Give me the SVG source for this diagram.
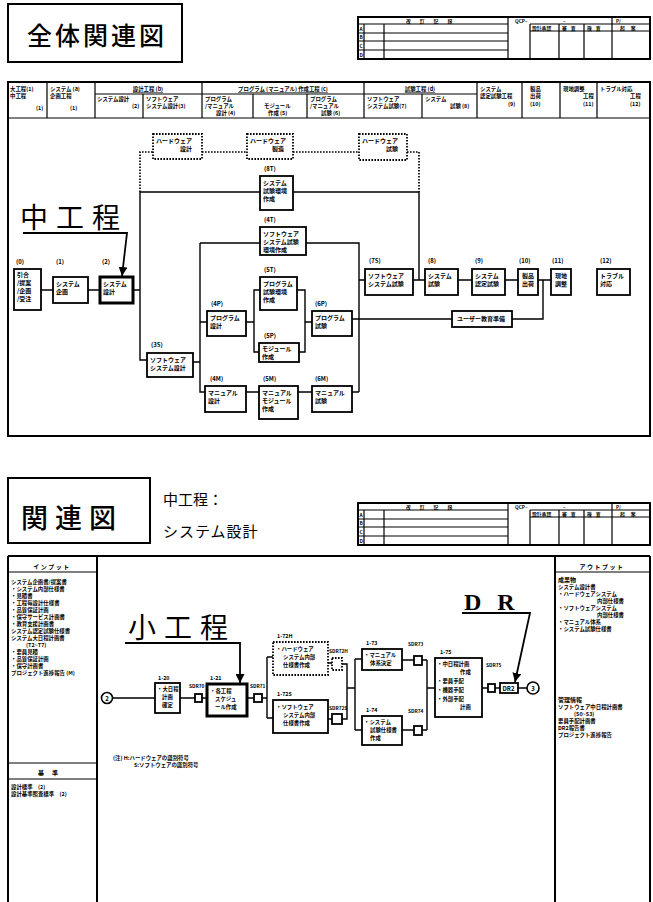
<svg xmlns="http://www.w3.org/2000/svg" width="653" height="902" viewBox="0 0 653 902">
<style>
.bx{fill:#fff;stroke:#000;stroke-width:1.8}
.bxk{fill:#fff;stroke:#000;stroke-width:3}
.dbx{fill:#fff;stroke:#000;stroke-width:1.8;stroke-dasharray:1.6 1.4}
.ln{fill:none;stroke:#000;stroke-width:1.4}
.dl{fill:none;stroke:#000;stroke-width:1.7;stroke-dasharray:1.6 1.4}
.fr{fill:none;stroke:#000;stroke-width:2}
.tl{fill:none;stroke:#000;stroke-width:1.2}
.co{fill:none;stroke:#000;stroke-width:1.8}
.t{font-family:"Noto Sans CJK JP","Noto Sans CJK SC",sans-serif;font-size:6px;font-weight:700;fill:#000}
.s{font-size:5.4px}
.xs{font-size:4.8px}
.big{font-family:"Noto Sans CJK JP","Noto Sans CJK SC",sans-serif;font-weight:400;fill:#000}
.ttl{font-family:"Noto Sans CJK JP","Noto Sans CJK SC",sans-serif;font-weight:500;fill:#000}
</style>
<defs>
<marker id="ah" viewBox="0 0 10 10" refX="10" refY="5" markerWidth="9" markerHeight="9" markerUnits="userSpaceOnUse" orient="auto"><path d="M0,0 L10,5 L0,10 z" fill="#000"/></marker>
<g id="rev">
<rect x="0" y="0" width="292" height="42" class="fr"/>
<path class="tl" d="M0,7 H150 M6,7 V42 M26,7 V42 M0,16 H150 M0,24 H150 M0,33 H150 M150,0 V42 M172,7 V42 M172,7 H292 M172,14 H292 M201,7 V42 M226,7 V42 M254,0 V42"/>
<text class="t xs" x="48" y="5.5" letter-spacing="9">改訂記録</text>
<text class="t xs" x="157" y="5.5">QCP–</text>
<text class="t xs" x="205" y="5.5">–</text>
<text class="t xs" x="258" y="5.5">P/</text>
<text class="t xs" x="174" y="12.5">設計承認</text>
<text class="t xs" x="204" y="12.5" letter-spacing="4">審査</text>
<text class="t xs" x="229" y="12.5" letter-spacing="4">検査</text>
<text class="t xs" x="262" y="12.5" letter-spacing="6">起案</text>
<text class="t xs" x="1.5" y="13.5">A</text>
<text class="t xs" x="1.5" y="22">B</text>
<text class="t xs" x="1.5" y="31">C</text>
<text class="t xs" x="1.5" y="40">D</text>
</g>
</defs>
<rect x="0" y="0" width="653" height="902" fill="#fff"/>

<!-- ===== TOP HALF ===== -->
<g id="title-top">
<rect x="8" y="4" width="174" height="58" class="fr" stroke-width="2.2"/>
<text class="ttl" x="27" y="45" font-size="25" letter-spacing="3">全体関連図</text>
</g>
<g id="rev-top"><use href="#rev" x="358" y="17"/></g>

<g id="col-headers">
<rect x="8" y="82" width="642" height="354" class="fr"/>
<path class="tl" d="M8,118 H650 M95,94 H477 M47,82 V118 M95,82 V118 M202,82 V118 M364,82 V118 M477,82 V118 M522,82 V118 M560,82 V118 M597,82 V118 M143,94 V118 M253,94 V118 M307,94 V118 M422,94 V118" stroke-width="1.4"/>
<text class="t s" x="10" y="91">大工程(1)</text>
<text class="t s" x="10" y="98">中工程</text>
<text class="t s" x="36" y="110">(1)</text>
<text class="t s" x="50" y="91">システム (a)</text>
<text class="t s" x="50" y="98">企画工程</text>
<text class="t s" x="70" y="110">(1)</text>
<text class="t s" x="148" y="91" text-anchor="middle" text-decoration="underline">設計工程 (b)</text>
<text class="t s" x="97" y="101">システム設計</text>
<text class="t s" x="132" y="108">(2)</text>
<text class="t s" x="146" y="101">ソフトウェア</text>
<text class="t s" x="146" y="108">システム設計(3)</text>
<text class="t s" x="283" y="91" text-anchor="middle" text-decoration="underline">プログラム (マニュアル) 作成工程 (c)</text>
<text class="t s" x="205" y="101">プログラム</text>
<text class="t s" x="205" y="108">/マニュアル</text>
<text class="t s" x="216" y="115">設計 (4)</text>
<text class="t s" x="264" y="108">モジュール</text>
<text class="t s" x="268" y="115">作成 (5)</text>
<text class="t s" x="310" y="101">プログラム</text>
<text class="t s" x="310" y="108">/マニュアル</text>
<text class="t s" x="321" y="115">試験 (6)</text>
<text class="t s" x="420" y="91" text-anchor="middle" text-decoration="underline">試験工程 (d)</text>
<text class="t s" x="367" y="101">ソフトウェア</text>
<text class="t s" x="367" y="108">システム試験(7)</text>
<text class="t s" x="425" y="101">システム</text>
<text class="t s" x="450" y="108">試験 (8)</text>
<text class="t s" x="480" y="91">システム</text>
<text class="t s" x="480" y="98">認定試験工程</text>
<text class="t s" x="508" y="106">(9)</text>
<text class="t s" x="530" y="91">製品</text>
<text class="t s" x="530" y="98">出荷</text>
<text class="t s" x="530" y="106">(10)</text>
<text class="t s" x="563" y="91">現地調整</text>
<text class="t s" x="583" y="98">工程</text>
<text class="t s" x="583" y="106">(11)</text>
<text class="t s" x="600" y="91">トラブル対応</text>
<text class="t s" x="630" y="98">工程</text>
<text class="t s" x="630" y="106">(12)</text>
</g>

<g id="connectors-top">
<path class="ln" d="M41,290 H53 M88,290 H100 M133,290 H140 M140,192 V360 H147 M140,192 H260 M293,192 H419 V280"/>
<path class="ln" d="M193,362 H200 M200,243 V392 H205 M200,243 H260 M200,322 H207"/>
<path class="ln" d="M246,322 H254 M260,290 H254 V352 H259 M297,290 H305 V352 H299 M305,322 H312"/>
<path class="ln" d="M246,392 H259 M298,392 H312 M352,392 H359 M306,243 H359 V392 M359,280 H365 M352,319 H452 M512,319 H543 V280"/>
<path class="ln" d="M413,280 H425 M458,280 H472 M505,280 H518 M538,280 H551"/>
<path class="dl" d="M140,192 V152 H153 M202,152 H247 M293,152 H359 M407,152 H419 V192"/>
</g>

<g id="callout-chukotei">
<text class="big" x="20" y="228" font-size="28" letter-spacing="8">中工程</text>
<path class="co" d="M23,233 H127 L122,276" marker-end="url(#ah)"/>
</g>

<g id="n0"><text class="t" x="16" y="264">(0)</text><rect class="bx" x="14" y="269" width="27" height="41"/><text class="t" x="17" y="277"><tspan x="17">引合</tspan><tspan x="17" dy="8">/提案</tspan><tspan x="17" dy="8">/企画</tspan><tspan x="17" dy="8">/受注</tspan></text></g>
<g id="n1"><text class="t" x="56" y="264">(1)</text><rect class="bx" x="53" y="277" width="35" height="26"/><text class="t" x="56" y="286"><tspan x="56">システム</tspan><tspan x="56" dy="8">企画</tspan></text></g>
<g id="n2"><text class="t" x="102" y="264">(2)</text><rect class="bxk" x="100" y="277" width="33" height="26"/><text class="t" x="103" y="286"><tspan x="103">システム</tspan><tspan x="103" dy="8">設計</tspan></text></g>
<g id="n3S"><text class="t" x="151" y="347">(3S)</text><rect class="bx" x="147" y="353" width="46" height="24"/><text class="t" x="150" y="362"><tspan x="150">ソフトウェア</tspan><tspan x="150" dy="8">システム設計</tspan></text></g>
<g id="hw-design"><rect class="dbx" x="153" y="134" width="49" height="25"/><text class="t" x="156" y="143"><tspan x="156">ハードウェア</tspan><tspan x="180" dy="8">設計</tspan></text></g>
<g id="hw-make"><rect class="dbx" x="247" y="134" width="46" height="25"/><text class="t" x="250" y="143"><tspan x="250">ハードウェア</tspan><tspan x="272" dy="8">製造</tspan></text></g>
<g id="hw-test"><rect class="dbx" x="359" y="134" width="48" height="26"/><text class="t" x="362" y="143"><tspan x="362">ハードウェア</tspan><tspan x="386" dy="8">試験</tspan></text></g>
<g id="n8T"><text class="t" x="264" y="171">(8T)</text><rect class="bx" x="260" y="176" width="33" height="34"/><text class="t" x="263" y="185"><tspan x="263">システム</tspan><tspan x="263" dy="8">試験環境</tspan><tspan x="263" dy="8">作成</tspan></text></g>
<g id="n4T"><text class="t" x="264" y="222">(4T)</text><rect class="bx" x="260" y="227" width="46" height="28"/><text class="t" x="263" y="236"><tspan x="263">ソフトウェア</tspan><tspan x="263" dy="8">システム試験</tspan><tspan x="263" dy="8">環境作成</tspan></text></g>
<g id="n5T"><text class="t" x="264" y="272">(5T)</text><rect class="bx" x="260" y="277" width="37" height="33"/><text class="t" x="263" y="286"><tspan x="263">プログラム</tspan><tspan x="263" dy="8">試験環境</tspan><tspan x="263" dy="8">作成</tspan></text></g>
<g id="n4P"><text class="t" x="211" y="306">(4P)</text><rect class="bx" x="207" y="311" width="39" height="25"/><text class="t" x="210" y="320"><tspan x="210">プログラム</tspan><tspan x="210" dy="8">設計</tspan></text></g>
<g id="n5P"><text class="t" x="264" y="338">(5P)</text><rect class="bx" x="259" y="343" width="40" height="19"/><text class="t" x="262" y="351"><tspan x="262">モジュール</tspan><tspan x="262" dy="8">作成</tspan></text></g>
<g id="n6P"><text class="t" x="315" y="306">(6P)</text><rect class="bx" x="312" y="311" width="40" height="25"/><text class="t" x="315" y="320"><tspan x="315">プログラム</tspan><tspan x="315" dy="8">試験</tspan></text></g>
<g id="n4M"><text class="t" x="210" y="381">(4M)</text><rect class="bx" x="205" y="386" width="41" height="26"/><text class="t" x="208" y="395"><tspan x="208">マニュアル</tspan><tspan x="208" dy="8">設計</tspan></text></g>
<g id="n5M"><text class="t" x="263" y="381">(5M)</text><rect class="bx" x="259" y="386" width="39" height="33"/><text class="t" x="262" y="395"><tspan x="262">マニュアル</tspan><tspan x="262" dy="8">モジュール</tspan><tspan x="262" dy="8">作成</tspan></text></g>
<g id="n6M"><text class="t" x="315" y="381">(6M)</text><rect class="bx" x="312" y="386" width="40" height="26"/><text class="t" x="315" y="395"><tspan x="315">マニュアル</tspan><tspan x="315" dy="8">試験</tspan></text></g>
<g id="n7S"><text class="t" x="369" y="263">(7S)</text><rect class="bx" x="365" y="269" width="48" height="26"/><text class="t" x="368" y="278"><tspan x="368">ソフトウェア</tspan><tspan x="368" dy="8">システム試験</tspan></text></g>
<g id="n8"><text class="t" x="428" y="263">(8)</text><rect class="bx" x="425" y="269" width="33" height="26"/><text class="t" x="428" y="278"><tspan x="428">システム</tspan><tspan x="428" dy="8">試験</tspan></text></g>
<g id="n9"><text class="t" x="475" y="263">(9)</text><rect class="bx" x="472" y="269" width="33" height="26"/><text class="t" x="475" y="278"><tspan x="475">システム</tspan><tspan x="475" dy="8">認定試験</tspan></text></g>
<g id="n10"><text class="t" x="519" y="263">(10)</text><rect class="bx" x="518" y="269" width="20" height="26"/><text class="t" x="522" y="278"><tspan x="522">製品</tspan><tspan x="522" dy="8">出荷</tspan></text></g>
<g id="n11"><text class="t" x="552" y="263">(11)</text><rect class="bx" x="551" y="269" width="20" height="26"/><text class="t" x="555" y="278"><tspan x="555">現地</tspan><tspan x="555" dy="8">調整</tspan></text></g>
<g id="n12"><text class="t" x="600" y="263">(12)</text><rect class="bx" x="597" y="269" width="33" height="26"/><text class="t" x="600" y="278"><tspan x="600">トラブル</tspan><tspan x="600" dy="8">対応</tspan></text></g>
<g id="nU"><rect class="bx" x="452" y="311" width="60" height="16"/><text class="t" x="457" y="321">ユーザー教育準備</text></g>

<!-- ===== BOTTOM HALF ===== -->
<g id="title-bottom">
<rect x="8" y="478" width="142" height="65" class="fr" stroke-width="2.2"/>
<text class="ttl" x="21" y="528" font-size="27" letter-spacing="7">関連図</text>
<text class="big" x="163" y="505" font-size="15">中工程：</text>
<text class="big" x="163" y="537" font-size="15" letter-spacing="1">システム設計</text>
</g>
<g id="rev-bottom"><use href="#rev" x="358" y="503"/></g>

<g id="frame-bottom">
<path class="fr" d="M8,556 H650 M8,556 V902 M97,556 V902 M555,556 V902 M650,556 V902"/>
<path class="tl" d="M8,572 H97 M555,572 H650 M8,763 H97 M8,779 H97" stroke-width="1.6"/>
</g>

<g id="input-col">
<text class="t" x="52" y="569" text-anchor="middle" letter-spacing="1.5">インプット</text>
<text class="t s" x="11" y="584"><tspan x="11">システム企画書/提案書</tspan><tspan x="11" dy="7">・システム内部仕様書</tspan><tspan x="11" dy="7">・見積書</tspan><tspan x="11" dy="7">・工程毎設計仕様書</tspan><tspan x="11" dy="7">・品質保証計画</tspan><tspan x="11" dy="7">・保守サービス計画書</tspan><tspan x="11" dy="7">・教育支援計画書</tspan><tspan x="11" dy="7">システム認定試験仕様書</tspan><tspan x="11" dy="7">システム大日程計画書</tspan><tspan x="26" dy="7">(T2~T7)</tspan><tspan x="11" dy="7">・要員見積</tspan><tspan x="11" dy="7">・品質保証計画</tspan><tspan x="11" dy="7">・保守計画書</tspan><tspan x="11" dy="7">プロジェクト進捗報告 (M)</tspan></text>
<text class="t" x="52" y="775" text-anchor="middle" letter-spacing="8">基準</text>
<text class="t s" x="11" y="789"><tspan x="11">設計標準　(2)</tspan><tspan x="11" dy="7">設計基準照査標準　(2)</tspan></text>
</g>

<g id="output-col">
<text class="t" x="602" y="569" text-anchor="middle" letter-spacing="1.5">アウトプット</text>
<text class="t" x="558" y="582">成果物</text>
<text class="t s" x="558" y="589"><tspan x="558">システム設計書</tspan><tspan x="558" dy="7">・ハードウェアシステム</tspan><tspan x="597" dy="7">内部仕様書</tspan><tspan x="558" dy="7">・ソフトウェアシステム</tspan><tspan x="597" dy="7">内部仕様書</tspan><tspan x="558" dy="7">・マニュアル体系</tspan><tspan x="558" dy="7">・システム試験仕様書</tspan></text>
<text class="t" x="558" y="702">管理情報</text>
<text class="t s" x="558" y="709"><tspan x="558">ソフトウェア中日程計画書</tspan><tspan x="574" dy="7">(S0~S3)</tspan><tspan x="558" dy="7">要員手配計画書</tspan><tspan x="558" dy="7">DR2報告書</tspan><tspan x="558" dy="7">プロジェクト進捗報告</tspan></text>
</g>

<g id="note">
<text class="t s" x="113" y="760">(注) H:ハードウェアの識別符号</text>
<text class="t s" x="134" y="767">S:ソフトウェアの識別符号</text>
</g>

<g id="connectors-bottom">
<path class="ln" d="M112.5,698 H155 M180,698 H195 M202,698 H207 M247,698 H254 M262,698 H267 M267,657 V718 M267,657 H273 M267,718 H273"/>
<path class="ln" d="M328,663 H332 M328,719 H332 M342,664 H347 V719 H342 M347,688 H355 M355,659 V730 M355,659 H362 M355,730 H362"/>
<path class="ln" d="M402,660 H414 M422,660 H427 M402,730 H414 M422,730 H427 M427,660 V730 M427,688 H435 M482,688 H488 M495,688 H500 M518,688 H527"/>
</g>

<g id="callout-shokotei">
<text class="big" x="128" y="638" font-size="28" letter-spacing="8">小工程</text>
<path class="co" d="M125,643 H240 V683" marker-end="url(#ah)"/>
</g>
<g id="callout-dr">
<text x="464" y="610" font-family="Liberation Serif, serif" font-size="24" font-weight="700" letter-spacing="16">DR</text>
<path class="co" d="M462,613 H530 L515,682" marker-end="url(#ah)"/>
</g>

<g id="c2"><circle cx="107" cy="698" r="5.5" fill="#fff" stroke="#000" stroke-width="1.6"/><text class="t" x="107" y="700.5" text-anchor="middle" font-size="7">2</text></g>
<g id="b1-20"><text class="t s" x="158" y="680">1-20</text><rect class="bx" x="155" y="683" width="25" height="30"/><text class="t s" x="157" y="691"><tspan x="157">・大日程</tspan><tspan x="162" dy="8">計画</tspan><tspan x="162" dy="8">確定</tspan></text></g>
<g id="sdr70"><text class="t xs" x="189" y="688">SDR70</text><rect class="bx" x="195" y="694" width="7" height="8" stroke-width="1.4"/></g>
<g id="b1-21"><text class="t s" x="210" y="680">1-21</text><rect class="bxk" x="207" y="684" width="40" height="32"/><text class="t s" x="210" y="693"><tspan x="210">・各工程</tspan><tspan x="215" dy="8">スケジュ</tspan><tspan x="215" dy="8">ール作成</tspan></text></g>
<g id="sdr71"><text class="t xs" x="250" y="688">SDR71</text><rect class="bx" x="254" y="694" width="8" height="8" stroke-width="1.4"/></g>
<g id="b1-72H"><text class="t s" x="277" y="638">1-72H</text><rect class="dbx" x="273" y="642" width="55" height="33"/><text class="t s" x="276" y="651"><tspan x="276">・ハードウェア</tspan><tspan x="283" dy="8">システム内部</tspan><tspan x="283" dy="8">仕様書作成</tspan></text></g>
<g id="b1-72S"><text class="t s" x="277" y="696">1-72S</text><rect class="bx" x="273" y="700" width="55" height="33"/><text class="t s" x="276" y="709"><tspan x="276">・ソフトウェア</tspan><tspan x="283" dy="8">システム内部</tspan><tspan x="283" dy="8">仕様書作成</tspan></text></g>
<g id="sdr72H"><text class="t xs" x="329" y="653">SDR72H</text><rect class="dbx" x="332" y="658" width="10" height="12" stroke-width="1.4"/></g>
<g id="sdr72S"><text class="t xs" x="329" y="710">SDR72S</text><rect class="bx" x="332" y="714" width="10" height="10" stroke-width="1.4"/></g>
<g id="b1-73"><text class="t s" x="366" y="645">1-73</text><rect class="bx" x="362" y="649" width="40" height="21"/><text class="t s" x="364" y="657"><tspan x="364">・マニュアル</tspan><tspan x="370" dy="8">体系決定</tspan></text></g>
<g id="b1-74"><text class="t s" x="366" y="712">1-74</text><rect class="bx" x="362" y="716" width="40" height="29"/><text class="t s" x="364" y="724"><tspan x="364">・システム</tspan><tspan x="370" dy="8">試験仕様書</tspan><tspan x="370" dy="8">作成</tspan></text></g>
<g id="sdr73"><text class="t xs" x="408" y="646">SDR73</text><rect class="bx" x="414" y="656" width="8" height="9" stroke-width="1.4"/></g>
<g id="sdr74"><text class="t xs" x="408" y="713">SDR74</text><rect class="bx" x="414" y="726" width="8" height="9" stroke-width="1.4"/></g>
<g id="b1-75"><text class="t s" x="440" y="654">1-75</text><rect class="bx" x="435" y="658" width="47" height="59"/><text class="t s" x="437" y="666"><tspan x="437">・中日程計画</tspan><tspan x="460" dy="8">作成</tspan><tspan x="437" dy="9">・要員手配</tspan><tspan x="437" dy="9">・機器手配</tspan><tspan x="437" dy="9">・外部手配</tspan><tspan x="460" dy="8">計画</tspan></text></g>
<g id="sdr75"><text class="t xs" x="486" y="667">SDR75</text><rect class="bx" x="488" y="684" width="7" height="8" stroke-width="1.4"/></g>
<g id="dr2"><rect class="bx" x="500" y="683" width="18" height="10" stroke-width="1.6"/><text class="t" x="502.5" y="690.5">DR2</text></g>
<g id="c3"><circle cx="533" cy="688" r="6" fill="#fff" stroke="#000" stroke-width="1.6"/><text class="t" x="533" y="690.5" text-anchor="middle" font-size="7">3</text></g>
</svg>
